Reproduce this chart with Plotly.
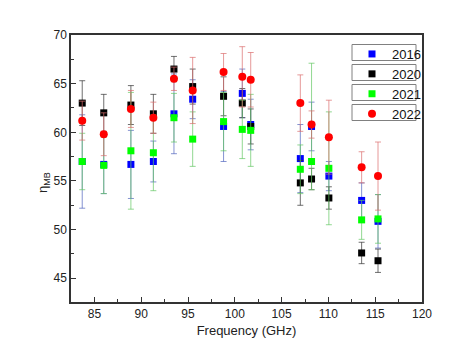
import plotly.graph_objects as go

freq = [83.7, 86.0, 88.9, 91.3, 93.5, 95.5, 98.8, 100.8, 101.7, 107.0, 108.2, 110.05, 113.55, 115.3]

y2016 = [57.0, 56.7, 56.7, 57.0, 61.9, 63.4, 60.6, 64.0, 60.8, 57.3, 60.6, 55.5, 53.0, 50.85]
e2016 = [4.8, 3.0, 3.5, 2.1, 4.1, 2.0, 3.6, 2.5, 2.6, 3.5, 2.5, 1.5, 1.8, 2.75]

y2020 = [63.0, 62.0, 62.8, 61.9, 66.5, 64.7, 63.7, 63.0, 60.6, 54.8, 55.2, 53.25, 47.6, 46.8]
e2020 = [2.3, 1.9, 2.0, 2.0, 1.3, 1.8, 2.0, 1.5, 1.8, 2.3, 1.1, 1.15, 1.1, 1.2]

y2021 = [57.0, 56.6, 58.1, 57.9, 61.5, 59.3, 61.1, 60.3, 60.2, 56.2, 57.0, 56.3, 51.0, 51.1]
e2021_up = [2.9, 2.9, 6.0, 3.9, 2.5, 2.8, 3.0, 3.0, 3.7, 2.5, 10.1, 5.8, 2.0, 2.5]
e2021_dn = [2.9, 2.9, 6.0, 3.9, 2.5, 2.8, 3.0, 3.0, 3.7, 2.5, 2.9, 5.8, 2.0, 2.5]

y2022 = [61.2, 59.8, 62.4, 61.5, 65.5, 64.3, 66.2, 65.7, 65.4, 63.0, 60.8, 59.5, 56.4, 55.5]
e2022 = [2.0, 2.2, 1.9, 1.6, 1.2, 3.4, 1.9, 3.1, 2.8, 2.9, 1.4, 3.8, 1.6, 3.5]

series = [
    ("2016", y2016, e2016, e2016, "#0000FF", "rgba(80,100,190,0.7)", "square"),
    ("2020", y2020, e2020, e2020, "#000000", "rgba(50,50,50,0.7)", "square"),
    ("2021", y2021, e2021_up, e2021_dn, "#00FF00", "rgba(100,200,100,0.7)", "square"),
    ("2022", y2022, e2022, e2022, "#FF0000", "rgba(220,110,110,0.7)", "circle"),
]

fig = go.Figure()
for name, ys, eu, ed, col, ecol, sym in series:
    fig.add_trace(go.Scatter(
        x=freq, y=ys, mode="markers", name=name,
        marker=dict(symbol=sym, size=7 if sym == "square" else 8, color=col, line=dict(width=0)),
        error_y=dict(type="data", array=eu, arrayminus=ed, symmetric=False,
                     color=ecol, thickness=1, width=3),
    ))

# page offset of the body margin (8px); plot area in page px: x 71..422, y 35..302
OFF = 8
PL, PR, PT, PB = 71, 422, 35, 302
W, H = PR - PL, PB - PT

def px(xp):
    return (xp - PL) / W

def py(yp):
    return 1 - (yp - PT) / H

box_tops = [44.5, 64.5, 84.5, 104.5]
shapes = []
for t in box_tops:
    shapes.append(dict(type="rect", xref="paper", yref="paper",
                       x0=px(352), x1=px(416), y0=py(t + 16), y1=py(t),
                       line=dict(color="#808080", width=1), fillcolor="rgba(0,0,0,0)"))

fig.update_layout(
    width=468 - OFF, height=356 - OFF,
    margin=dict(l=PL - OFF, r=468 - PR, t=PT - OFF, b=356 - PB, pad=0),
    paper_bgcolor="white", plot_bgcolor="white",
    font=dict(family="Liberation Sans, Arial, sans-serif", size=12, color="#222222"),
    showlegend=True,
    legend=dict(x=px(352), y=py(39), xanchor="left", yanchor="top",
                bgcolor="rgba(0,0,0,0)", borderwidth=0,
                font=dict(size=13, color="#111111"),
                traceorder="normal", itemwidth=30),
    shapes=shapes,
    annotations=[dict(text="η<sub>MB</sub>", xref="paper", yref="paper",
                      x=px(43), y=py(183),
                      xanchor="center", yanchor="middle", textangle=-90,
                      showarrow=False, font=dict(size=13, color="#222222"))],
)

fig.update_xaxes(
    range=[82.5, 120], tickvals=[85, 90, 95, 100, 105, 110, 115, 120],
    ticks="inside", ticklen=5, tickcolor="#333333",
    minor=dict(ticks="inside", ticklen=3, dtick=2.5, tick0=82.5, tickcolor="#333333"),
    showline=True, linecolor="#333333", linewidth=1.5, mirror=True,
    showgrid=False, zeroline=False,
    title=dict(text="Frequency (GHz)", font=dict(size=13), standoff=6),
)
fig.update_yaxes(
    range=[42.56, 70], tickvals=[45, 50, 55, 60, 65, 70],
    ticks="inside", ticklen=5, tickcolor="#333333",
    minor=dict(ticks="inside", ticklen=3, dtick=2.5, tick0=42.5, tickcolor="#333333"),
    showline=True, linecolor="#333333", linewidth=1.5, mirror=True,
    showgrid=False, zeroline=False,
)

fig.write_html("out.html")
